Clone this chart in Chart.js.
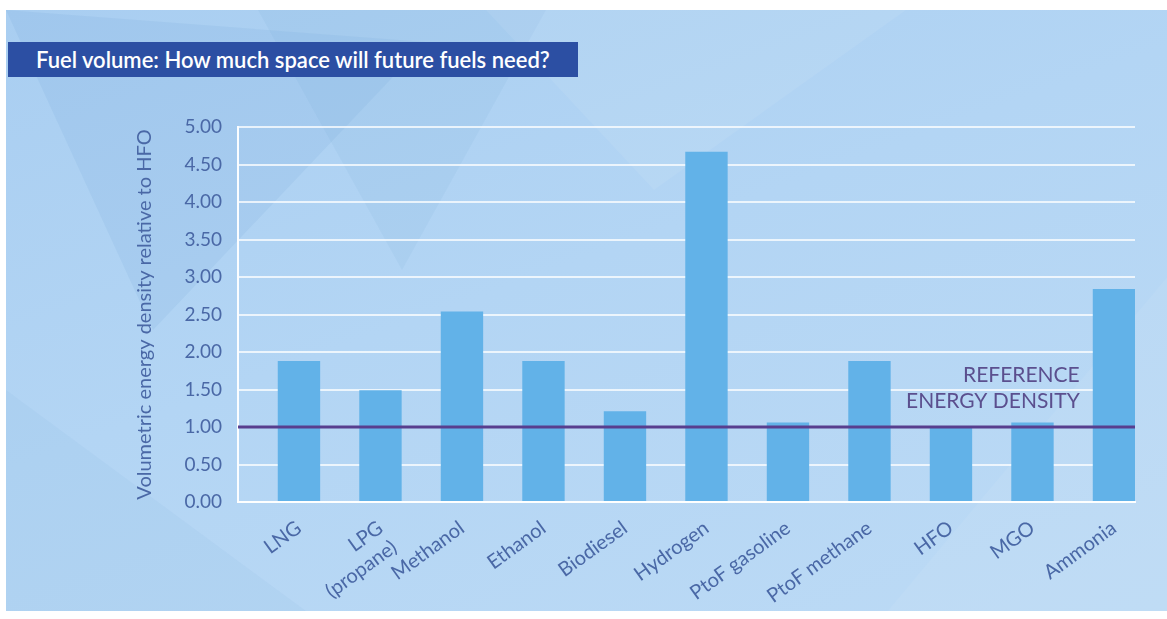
<!DOCTYPE html>
<html>
<head>
<meta charset="utf-8">
<title>Fuel volume</title>
<script src="https://cdn.jsdelivr.net/npm/chart.js@4.4.1/dist/chart.umd.min.js"></script>
<style>
  html, body { margin: 0; padding: 0; background: #fff; }
  body { width: 1167px; height: 619px; position: relative; overflow: hidden; font-family: Lato, "Open Sans", sans-serif; }
  .panel {
    position: absolute; left: 6px; top: 10px; right: 0; bottom: 8px;
    background: linear-gradient(160deg, #a9cef1 0%, #b3d5f4 45%, #bcdaf5 100%);
    overflow: hidden;
  }
  .tri { position: absolute; background: rgba(70, 130, 195, 0.08); }
  .tri.a { left: 0; top: 0; width: 420px; height: 320px; clip-path: polygon(0 0, 100% 10%, 35% 100%); }
  .tri.b { left: 180px; top: 0; width: 360px; height: 260px; clip-path: polygon(20% 0, 100% 0, 60% 100%); background: rgba(70, 130, 195, 0.06); }
  .tri.c { left: 480px; top: 0; width: 420px; height: 180px; clip-path: polygon(0 0, 100% 0, 40% 100%); background: rgba(255, 255, 255, 0.07); }
  .tri.d { left: 850px; top: 260px; width: 317px; height: 341px; clip-path: polygon(100% 0, 100% 100%, 10% 100%); background: rgba(255, 255, 255, 0.06); }
  .tri.e { left: 0; top: 380px; width: 300px; height: 221px; clip-path: polygon(0 0, 100% 100%, 0 100%); background: rgba(70, 130, 195, 0.05); }
  .title {
    position: absolute; left: 8px; top: 42px; width: 570px; height: 35px;
    background: #2c4fa3; color: #fff;
    font-family: Lato, sans-serif; font-weight: 600; font-size: 22px; line-height: 35px;
    padding-left: 28px; box-sizing: border-box; white-space: nowrap;
  }
  #chart { position: absolute; left: 0; top: 0; }
</style>
</head>
<body>
<div class="panel">
  <div class="tri a"></div><div class="tri b"></div><div class="tri c"></div>
  <div class="tri d"></div><div class="tri e"></div>
</div>
<div class="title">Fuel volume: How much space will future fuels need?</div>
<canvas id="chart" width="1167" height="619"></canvas>
<script>
// Dados
const categories = ['LNG', ['LPG', '(propane)'], 'Methanol', 'Ethanol', 'Biodiesel', 'Hydrogen',
    'PtoF gasoline', 'PtoF methane', 'HFO', 'MGO', 'Ammonia'];
const densityVsHFO = [1.88, 1.49, 2.54, 1.88, 1.21, 4.67, 1.06, 1.88, 1.00, 1.06, 2.84];
const yTicks = [0, 0.5, 1, 1.5, 2, 2.5, 3, 3.5, 4, 4.5, 5];
const referenceLevel = 1.0;
const referenceText = ['REFERENCE', 'ENERGY DENSITY'];

const tickColor = '#4a68a6';

// Linha de referência + texto
const referenceLine = {
    id: 'referenceLine',
    afterDatasetsDraw(chart) {
        const { ctx, chartArea, scales } = chart;
        const y = scales.y.getPixelForValue(referenceLevel);
        ctx.save();
        ctx.strokeStyle = '#583e8e';
        ctx.lineWidth = 3;
        ctx.beginPath();
        ctx.moveTo(chartArea.left, y);
        ctx.lineTo(chartArea.right, y);
        ctx.stroke();

        ctx.fillStyle = '#5b4f8e';
        ctx.font = '21px Lato';
        ctx.textAlign = 'right';
        ctx.textBaseline = 'alphabetic';
        const x = scales.x.getPixelForValue(9.58);
        ctx.fillText(referenceText[0], x, scales.y.getPixelForValue(1.6));
        ctx.fillText(referenceText[1], x, scales.y.getPixelForValue(1.26));
        ctx.restore();
    }
};

const ctx = document.getElementById('chart').getContext('2d');
new Chart(ctx, {
    type: 'bar',
    data: {
        datasets: [{
            label: 'Volumetric energy density',
            data: densityVsHFO.map((v, i) => ({ x: i, y: v })),
            backgroundColor: '#62b2e8',
            borderWidth: 0,
            barPercentage: 0.52,
            categoryPercentage: 1
        }]
    },
    options: {
        responsive: false,
        animation: false,
        layout: { padding: { left: 133, top: 127, right: 32, bottom: 15 } },
        plugins: { legend: { display: false }, tooltip: { enabled: false } },
        scales: {
            x: {
                type: 'linear',
                offset: false,
                min: -0.748,
                max: 10.258,
                grid: { display: false, offset: false },
                border: { display: true, color: 'rgba(255,255,255,0.95)', width: 2 },
                afterBuildTicks: (axis) => { axis.ticks = categories.map((c, i) => ({ value: i })); },
                afterFit: (axis) => { axis.height = 102; },
                ticks: {
                    autoSkip: false,
                    minRotation: 36,
                    maxRotation: 36,
                    padding: 6,
                    color: tickColor,
                    font: { family: 'Lato', size: 20 },
                    callback: (v) => categories[v]
                }
            },
            y: {
                min: 0,
                max: 5,
                afterBuildTicks: (axis) => { axis.ticks = yTicks.map(v => ({ value: v })); },
                afterFit: (axis) => { axis.width = 105; },
                grid: { color: 'rgba(255,255,255,0.75)', lineWidth: 2, drawTicks: false },
                border: { display: true, color: 'rgba(255,255,255,0.95)', width: 2 },
                ticks: {
                    padding: 16,
                    color: tickColor,
                    font: { family: 'Lato', size: 19 },
                    callback: (v) => v.toFixed(2)
                },
                title: {
                    display: true,
                    text: 'Volumetric energy density relative to HFO',
                    color: tickColor,
                    font: { family: 'Lato', size: 20 },
                    padding: 0
                }
            }
        }
    },
    plugins: [referenceLine]
});
</script>
</body>
</html>
